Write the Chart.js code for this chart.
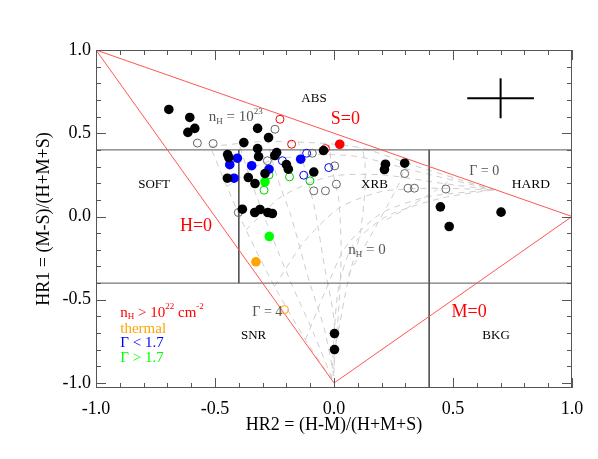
<!DOCTYPE html>
<html>
<head>
<meta charset="utf-8">
<script src="https://cdn.jsdelivr.net/npm/chart.js@4.4.1/dist/chart.umd.min.js"></script>
<style>
  body { margin: 0; background: #fff; }
</style>
</head>
<body>
<canvas id="hrChart" width="598" height="459"></canvas>
<script>
var TICKS = [-1, -0.5, 0, 0.5, 1];

// sources as [HR2, HR1]
var blackPts = [
    [-0.694, 0.643], [-0.606, 0.595], [-0.585, 0.529], [-0.614, 0.505],
    [-0.379, 0.444], [-0.321, 0.529], [-0.275, 0.474], [-0.321, 0.408],
    [-0.447, 0.372], [-0.442, 0.354], [-0.317, 0.360], [-0.241, 0.384], [-0.249, 0.366],
    [-0.200, 0.312], [-0.192, 0.284], [-0.044, 0.396], [-0.085, 0.267],
    [-0.448, 0.230], [-0.360, 0.234], [-0.332, 0.198], [-0.290, 0.258],
    [0.216, 0.314], [0.212, 0.282], [0.297, 0.320],
    [0.447, 0.058], [0.484, -0.060], [0.702, 0.026],
    [-0.385, 0.044], [-0.333, 0.024], [-0.311, 0.042], [-0.278, 0.024], [-0.259, 0.018],
    [0.002, -0.703], [0.002, -0.799]
];
var redPts = [[0.024, 0.434]];
var bluePts = [[-0.406, 0.350], [-0.438, 0.311], [-0.346, 0.305], [-0.273, 0.284], [-0.140, 0.344], [-0.420, 0.230]];
var greenPts = [[-0.290, 0.208], [-0.272, -0.120]];
var orangePts = [[-0.328, -0.272]];

var grayOpen = [
    [-0.574, 0.441], [-0.508, 0.438], [-0.248, 0.524], [-0.280, 0.335], [-0.091, 0.380],
    [0.003, 0.304], [0.010, 0.194], [-0.085, 0.154], [-0.036, 0.154], [0.297, 0.258],
    [0.311, 0.170], [0.338, 0.170], [0.470, 0.165], [-0.402, 0.024]
];
var redOpen = [[-0.227, 0.584], [-0.178, 0.434], [-0.036, 0.408]];
var blueOpen = [[-0.217, 0.335], [-0.115, 0.380], [-0.022, 0.294], [-0.127, 0.248]];
var greenOpen = [[-0.294, 0.158], [-0.187, 0.238], [-0.101, 0.214], [-0.273, 0.250]];
var orangeOpen = [[-0.208, -0.559]];

// typical error bar
var errH = [[0.56, 0.71], [0.84, 0.71]];
var errV = [[0.70, 0.59], [0.70, 0.83]];

// zero count lines
var lineS0 = [[-1, 1], [1, 0]];
var lineH0 = [[-1, 1], [0, -1]];
var lineM0 = [[0, -1], [1, 0]];

// region borders
var borders = [
    [[-1, 0.4], [1, 0.4]],
    [[-1, -0.4], [1, -0.4]],
    [[-0.4, 0.4], [-0.4, -0.4]],
    [[0.4, 0.4], [0.4, -1.03]]
];

// model grid, constant Gamma tracks (Gamma 4 .. 0.5)
var gammaTracks = [
    [[-0.01, -0.98], [-0.12, -0.74], [-0.25, -0.42], [-0.37, -0.08], [-0.45, 0.18], [-0.52, 0.42]],
    [[-0.01, -0.97], [-0.08, -0.72], [-0.18, -0.40], [-0.28, -0.05], [-0.35, 0.22], [-0.40, 0.44]],
    [[0.00, -0.96], [-0.04, -0.68], [-0.11, -0.36], [-0.18, 0.00], [-0.24, 0.24], [-0.28, 0.45]],
    [[0.00, -0.94], [0.00, -0.62], [-0.04, -0.30], [-0.08, 0.04], [-0.12, 0.27], [-0.15, 0.45]],
    [[0.00, -0.90], [0.02, -0.55], [0.03, -0.22], [0.02, 0.10], [-0.01, 0.30], [-0.02, 0.43]],
    [[0.01, -0.75], [0.06, -0.38], [0.11, -0.10], [0.13, 0.16], [0.13, 0.32], [0.12, 0.41]],
    [[0.06, -0.35], [0.16, -0.10], [0.23, 0.08], [0.28, 0.22], [0.30, 0.33]],
    [[0.22, -0.02], [0.33, 0.07], [0.43, 0.16], [0.50, 0.23]]
];
// constant nH tracks (nH 0 .. 1e23)
var nhTracks = [
    [[-0.01, -0.98], [0.00, -0.72], [0.02, -0.42], [0.08, -0.17], [0.22, 0.00], [0.45, 0.11], [0.67, 0.16]],
    [[-0.12, -0.74], [-0.04, -0.46], [0.05, -0.18], [0.20, 0.02], [0.40, 0.12], [0.67, 0.16]],
    [[-0.25, -0.42], [-0.13, -0.16], [0.02, 0.05], [0.20, 0.15], [0.42, 0.17], [0.67, 0.16]],
    [[-0.37, -0.08], [-0.22, 0.12], [-0.02, 0.24], [0.20, 0.25], [0.45, 0.20], [0.67, 0.16]],
    [[-0.45, 0.18], [-0.30, 0.32], [-0.10, 0.37], [0.10, 0.36], [0.35, 0.27], [0.67, 0.16]],
    [[-0.52, 0.42], [-0.30, 0.45], [-0.05, 0.44], [0.12, 0.41], [0.35, 0.30], [0.67, 0.16]]
];

// text in the plot, '_' = subscript, '^' = superscript
var notes = [
    { parts: ['ABS'], x: -0.084, y: 0.71, color: '#000', size: 13 },
    { parts: ['S=0'], x: 0.048, y: 0.586, color: '#f00', size: 18 },
    { parts: ['n', '_H', ' = 10', '^23'], x: -0.526, y: 0.595, color: '#555', size: 15, align: 'left' },
    { parts: ['SOFT'], x: -0.756, y: 0.189, color: '#000', size: 13 },
    { parts: ['XRB'], x: 0.17, y: 0.189, color: '#000', size: 13 },
    { parts: ['\u0393 = 0'], x: 0.631, y: 0.27, color: '#555', size: 14 },
    { parts: ['HARD'], x: 0.827, y: 0.194, color: '#000', size: 13.5 },
    { parts: ['H=0'], x: -0.58, y: -0.06, color: '#f00', size: 18 },
    { parts: ['n', '_H', ' = 0'], x: 0.06, y: -0.2, color: '#555', size: 15, align: 'left' },
    { parts: ['\u0393 = 4'], x: -0.28, y: -0.577, color: '#555', size: 14 },
    { parts: ['SNR'], x: -0.338, y: -0.715, color: '#000', size: 13 },
    { parts: ['M=0'], x: 0.568, y: -0.577, color: '#f00', size: 18 },
    { parts: ['BKG'], x: 0.681, y: -0.715, color: '#000', size: 13 },
    { parts: ['n', '_H', ' > 10', '^22', ' cm', '^-2'], x: -0.898, y: -0.577, color: '#f00', size: 15, align: 'left' },
    { parts: ['thermal'], x: -0.898, y: -0.677, color: '#ffa500', size: 15, align: 'left' },
    { parts: ['\u0393 < 1.7'], x: -0.898, y: -0.761, color: '#00f', size: 15, align: 'left' },
    { parts: ['\u0393 > 1.7'], x: -0.898, y: -0.851, color: '#0f0', size: 15, align: 'left' }
];

var FONT = '"Liberation Serif", "Times New Roman", serif';

function pts(list) {
    return list.map(function (p) { return { x: p[0], y: p[1] }; });
}

function lineSet(list, color, width, dash, order) {
    return {
        data: pts(list),
        showLine: true,
        borderColor: color,
        borderWidth: width,
        borderDash: dash || [],
        pointRadius: 0,
        tension: dash ? 0.25 : 0,
        fill: false,
        order: order
    };
}

function dotSet(list, color) {
    return { data: pts(list), pointRadius: 4.8, backgroundColor: color, borderWidth: 0, order: 0 };
}

function ringSet(list, color) {
    return { data: pts(list), pointRadius: 4, backgroundColor: 'rgba(0,0,0,0)', borderColor: color, borderWidth: 1, order: 1 };
}

var datasets = [];
gammaTracks.forEach(function (t) { datasets.push(lineSet(t, 'rgba(205,205,205,1)', 1, [6, 5], 20)); });
nhTracks.forEach(function (t) { datasets.push(lineSet(t, 'rgba(205,205,205,1)', 1, [6, 5], 20)); });
borders.forEach(function (b) { datasets.push(lineSet(b, '#555', 1, null, 10)); });
datasets.push(lineSet(lineS0, '#ff5555', 1, null, 9));
datasets.push(lineSet(lineH0, '#ff5555', 1, null, 9));
datasets.push(lineSet(lineM0, '#ff5555', 1, null, 9));
datasets.push(lineSet(errH, '#000', 2, null, 9));
datasets.push(lineSet(errV, '#000', 2, null, 9));
datasets.push(ringSet(grayOpen, '#666'));
datasets.push(ringSet(redOpen, '#e00'));
datasets.push(ringSet(blueOpen, '#00f'));
datasets.push(ringSet(greenOpen, '#0c0'));
datasets.push(ringSet(orangeOpen, '#ffa500'));
datasets.push(dotSet(blackPts, '#000'));
datasets.push(dotSet(bluePts, '#00f'));
datasets.push(dotSet(greenPts, '#0f0'));
datasets.push(dotSet(orangePts, '#ffa500'));
datasets.push(dotSet(redPts, '#f00'));

function drawParts(ctx, note, xs, ys) {
    var x = xs.getPixelForValue(note.x);
    var y = ys.getPixelForValue(note.y);
    var segs = note.parts.map(function (p) {
        var kind = p[0] === '_' ? 'sub' : (p[0] === '^' ? 'sup' : 'n');
        var t = kind === 'n' ? p : p.slice(1);
        var s = kind === 'n' ? note.size : Math.round(note.size * 0.62);
        ctx.font = s + 'px ' + FONT;
        return { t: t, kind: kind, s: s, w: ctx.measureText(t).width };
    });
    var total = segs.reduce(function (a, g) { return a + g.w; }, 0);
    var cx = note.align === 'left' ? x : x - total / 2;
    ctx.fillStyle = note.color;
    ctx.textAlign = 'left';
    ctx.textBaseline = 'middle';
    segs.forEach(function (g) {
        ctx.font = g.s + 'px ' + FONT;
        var dy = g.kind === 'sub' ? note.size * 0.3 : (g.kind === 'sup' ? -note.size * 0.4 : 0);
        ctx.fillText(g.t, cx, y + dy);
        cx += g.w;
    });
}

// IDL style frame: box on all sides with inward ticks, plus the text notes
var framePlugin = {
    id: 'frame',
    afterDatasetsDraw: function (chart) {
        var ctx = chart.ctx, a = chart.chartArea;
        var xs = chart.scales.x, ys = chart.scales.y;
        ctx.save();
        ctx.strokeStyle = '#555';
        ctx.lineWidth = 1;
        ctx.strokeRect(a.left + 0.5, a.top + 0.5, a.right - a.left - 1, a.bottom - a.top - 1);
        ctx.beginPath();
        for (var i = -10; i <= 10; i++) {
            var len = (i % 5 === 0) ? 10 : 5;
            var px = Math.round(xs.getPixelForValue(i / 10)) + 0.5;
            var py = Math.round(ys.getPixelForValue(i / 10)) + 0.5;
            ctx.moveTo(px, a.bottom); ctx.lineTo(px, a.bottom - len);
            ctx.moveTo(px, a.top); ctx.lineTo(px, a.top + len);
            ctx.moveTo(a.left, py); ctx.lineTo(a.left + len, py);
            ctx.moveTo(a.right, py); ctx.lineTo(a.right - len, py);
        }
        ctx.stroke();
        notes.forEach(function (n) { drawParts(ctx, n, xs, ys); });
        ctx.restore();
    }
};

var ctx = document.getElementById('hrChart').getContext('2d');
var chart = new Chart(ctx, {
    type: 'scatter',
    data: { datasets: datasets },
    options: {
        responsive: false,
        devicePixelRatio: 1,
        animation: false,
        layout: { padding: { top: 50, right: 26, left: 0, bottom: 0 } },
        plugins: { legend: { display: false }, tooltip: { enabled: false } },
        scales: {
            x: {
                type: 'linear',
                min: -1,
                max: 1,
                afterBuildTicks: function (s) { s.ticks = TICKS.map(function (v) { return { value: v }; }); },
                afterFit: function (s) { s.height = 71; },
                grid: { display: false, drawTicks: false },
                border: { display: false },
                ticks: {
                    padding: 10,
                    color: '#000',
                    font: { family: FONT, size: 18 },
                    callback: function (v) { return v.toFixed(1); }
                },
                title: {
                    display: true,
                    text: 'HR2 = (H-M)/(H+M+S)',
                    color: '#000',
                    font: { family: FONT, size: 18 },
                    padding: { top: 0, bottom: 23 }
                }
            },
            y: {
                type: 'linear',
                min: -1.03,
                max: 1,
                afterBuildTicks: function (s) { s.ticks = TICKS.map(function (v) { return { value: v }; }); },
                afterFit: function (s) { s.width = 96; },
                grid: { display: false, drawTicks: false },
                border: { display: false },
                ticks: {
                    padding: 5,
                    color: '#000',
                    font: { family: FONT, size: 18 },
                    callback: function (v) { return v.toFixed(1); }
                },
                title: {
                    display: true,
                    text: 'HR1 = (M-S)/(H+M+S)',
                    color: '#000',
                    font: { family: FONT, size: 18 },
                    padding: { top: 33, bottom: 0 }
                }
            }
        }
    },
    plugins: [framePlugin]
});
</script>
</body>
</html>
